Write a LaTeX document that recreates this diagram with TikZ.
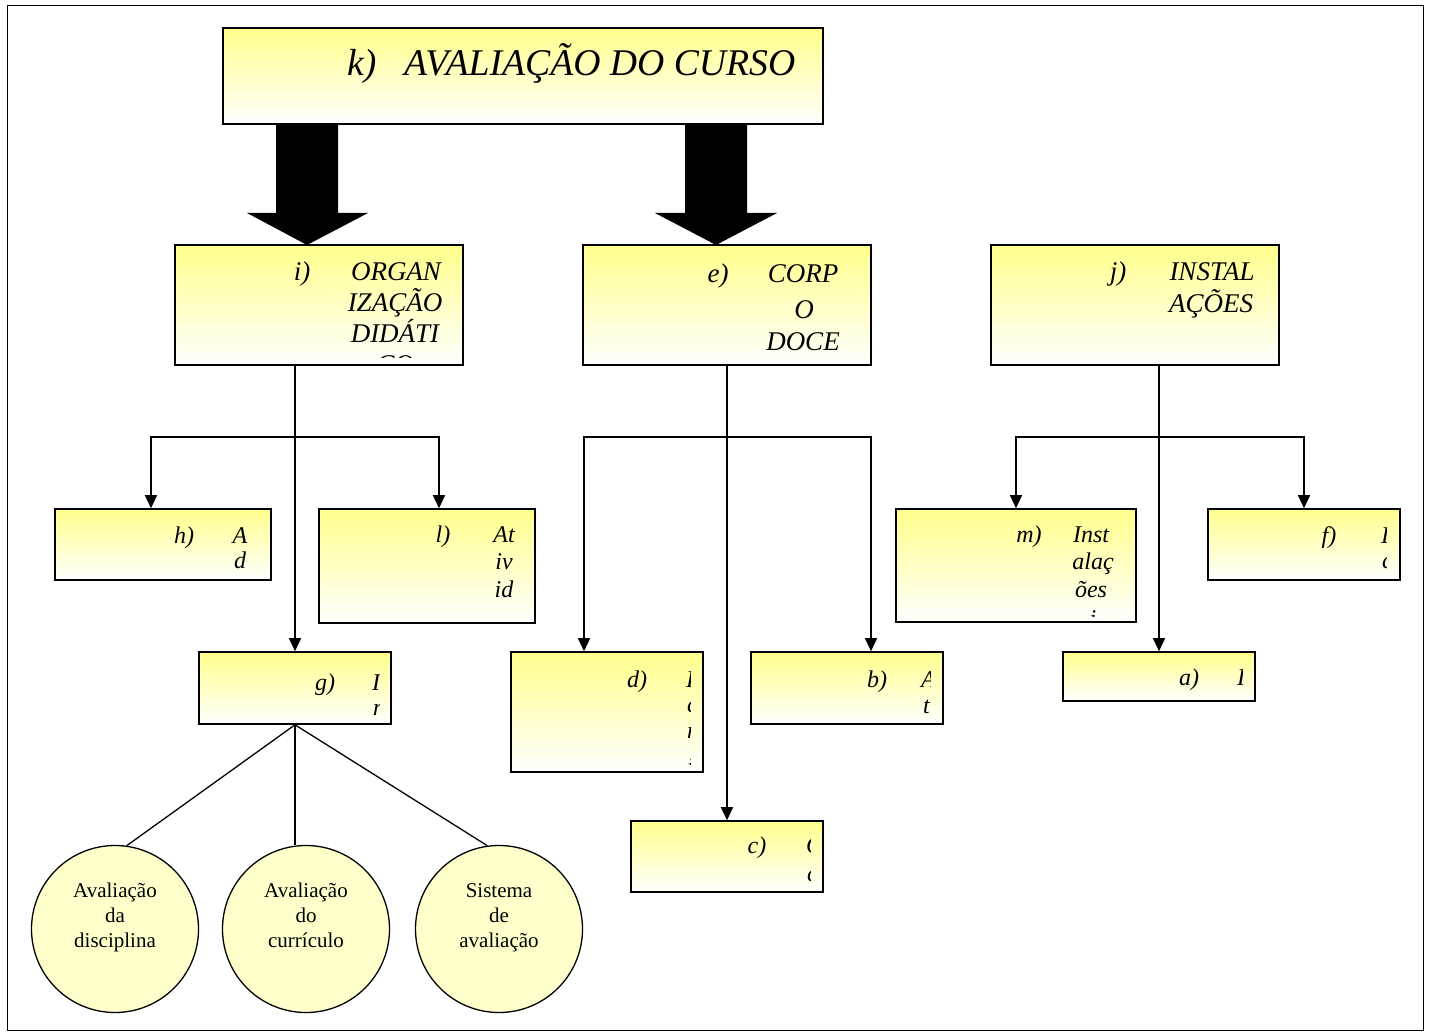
\documentclass[tikz,border=0pt]{standalone}
\usepackage{fontspec}
\setmainfont{Liberation Serif}
\usetikzlibrary{arrows.meta,shapes.geometric}
\definecolor{boxyel}{RGB}{255,255,140}
\definecolor{circyel}{RGB}{255,255,204}
\begin{document}
\begin{tikzpicture}[x=1pt,y=-1pt,
 box/.style={draw=black,line width=1.6pt,top color=boxyel,bottom color=white,inner sep=0pt,rectangle},
 conn/.style={line width=1.3pt},
 arr/.style={conn,-{Triangle[width=12pt,length=13pt]}},
 circ/.style={draw,line width=1.3pt,fill=circyel,circle,minimum size=167pt,inner sep=0pt},
 t1/.style={font=\fontsize{37.7}{40}\selectfont\itshape,anchor=base west,inner sep=0pt},
 t2/.style={font=\fontsize{27}{30}\selectfont\itshape,anchor=base,inner sep=0pt},
 t3/.style={font=\fontsize{24}{27}\selectfont\itshape,anchor=base,inner sep=0pt},
 t3w/.style={t3,anchor=base west},
 ct/.style={font=\fontsize{21}{25}\selectfont,anchor=base,inner sep=0pt},
]
\useasboundingbox (0,0) rectangle (1429,1035);
\fill[white] (0,0) rectangle (1429,1035);
\draw[line width=1pt] (7,6) rectangle (1423,1030);

% boxes
\node[box,minimum width=600pt,minimum height=96pt] (k) at (523,76) {};
\node[box,minimum width=288pt,minimum height=120pt] (i) at (319,305) {};
\node[box,minimum width=288pt,minimum height=120pt] (e) at (727,305) {};
\node[box,minimum width=288pt,minimum height=120pt] (j) at (1135,305) {};
\node[box,minimum width=216pt,minimum height=71pt] (h) at (163,544.5) {};
\node[box,minimum width=216pt,minimum height=114pt] (l) at (427,566) {};
\node[box,minimum width=240pt,minimum height=113pt] (m) at (1016,565.5) {};
\node[box,minimum width=192pt,minimum height=71pt] (f) at (1304,544.5) {};
\node[box,minimum width=192pt,minimum height=72pt] (g) at (295,688) {};
\node[box,minimum width=192pt,minimum height=120pt] (d) at (607,712) {};
\node[box,minimum width=192pt,minimum height=72pt] (b) at (847,688) {};
\node[box,minimum width=192pt,minimum height=49pt] (a) at (1159,676.5) {};
\node[box,minimum width=192pt,minimum height=71pt] (c) at (727,856.5) {};

% circles
\node[circ] (c1) at (115,929) {};
\node[circ] (c2) at (306,929) {};
\node[circ] (c3) at (499,929) {};
\node[ct] (c1a) at (115,897) {Avaliação};
\node[ct] (c1b) at (115,922) {da};
\node[ct] (c1c) at (115,947) {disciplina};
\node[ct] (c2a) at (306,897) {Avaliação};
\node[ct] (c2b) at (306,922) {do};
\node[ct] (c2c) at (306,947) {currículo};
\node[ct] (c3a) at (499,897) {Sistema};
\node[ct] (c3b) at (499,922) {de};
\node[ct] (c3c) at (499,947) {avaliação};

% big arrows
\fill (276,125) -- (338,125) -- (338,213) -- (368,213) -- (307,245) -- (247,213) -- (276,213) -- cycle;
\fill (685,125) -- (747,125) -- (747,213) -- (777,213) -- (716,245) -- (655,213) -- (685,213) -- cycle;

% connectors
\coordinate (ibr) at (295,437);
\coordinate (ebr) at (727,437);
\coordinate (jbr) at (1159,437);
\coordinate (hin) at ([xshift=-12pt]h.north);
\coordinate (lin) at ([xshift=12pt]l.north);
\coordinate (din) at ([xshift=-23pt]d.north);
\coordinate (bin) at ([xshift=24pt]b.north);
\draw[arr] (ibr) -| (hin);
\draw[arr] (ibr) -| (lin);
\draw[arr] (i.south -| g.north) -- (g.north);
\draw[arr] (ebr) -| (din);
\draw[arr] (ebr) -| (bin);
\draw[arr] (e.south) -- (c.north);
\draw[arr] (jbr) -| (m.north);
\draw[arr] (jbr) -| (f.north);
\draw[arr] (j.south -| a.north) -- (a.north);
\draw[conn] (g.south) -- (c1.82);
\draw[conn] (g.south) -- (g.south |- c2.97.5);
\draw[conn] (g.south) -- (c3.98);

% title
\node[t1] (kl) at (347,76) {k)};
\node[t1] (kt) at (404,76) {AVALIAÇÃO DO CURSO};

% row 2
\begin{scope}
\clip (175,245) rectangle (449,357);
\node[t2] (il) at (302,280) {i)};
\node[t2] (i1) at (396,280) {ORGAN};
\node[t2] (i2) at (395,311) {IZAÇÃO};
\node[t2] (i3) at (395,342) {DIDÁTI};
\node[t2] (i4) at (395,373) {CO};
\end{scope}
\node[t2] (el) at (718,282) {e)};
\node[t2] (e1) at (803,282) {CORP};
\node[t2] (e2) at (804,318) {O};
\node[t2] (e3) at (803,350) {DOCE};
\node[t2] (jl) at (1118,280) {j)};
\node[t2] (j1) at (1212,280) {INSTAL};
\node[t2] (j2) at (1211,312) {AÇÕES};

% row 3
\node[t3] (hl) at (184,543) {h)};
\node[t3] (h1) at (240,543) {A};
\node[t3] (h2) at (240,568) {d};
\node[t3] (ll) at (443,542) {l)};
\node[t3] (l1) at (504,542) {At};
\node[t3] (l2) at (504,569) {iv};
\node[t3] (l3) at (504,597) {id};
\begin{scope}
\clip (896,509) rectangle (1122,616);
\node[t3] (ml) at (1029,542) {m)};
\node[t3] (m1) at (1091,542) {Inst};
\node[t3] (m2) at (1093,569) {alaç};
\node[t3] (m3) at (1091,597) {ões};
\node[t3] (m4) at (1093,626) {i};
\end{scope}
\begin{scope}
\clip (1208,509) rectangle (1386,580);
\node[t3] (fl) at (1329,543) {f)};
\node[t3w] (f1) at (1381,543) {I};
\node[t3w] (f2) at (1382,568) {c};
\end{scope}
\begin{scope}
\clip (199,652) rectangle (379,724);
\node[t3] (gl) at (325,690) {g)};
\node[t3w] (g1) at (372,690) {I};
\node[t3w] (g2) at (373,715) {n};
\end{scope}
\begin{scope}
\clip (511,652) rectangle (690,764);
\node[t3] (dl) at (637,687) {d)};
\node[t3w] (d1) at (686,687) {I};
\node[t3w] (d2) at (687,712) {c};
\node[t3w] (d3) at (687,738) {n};
\node[t3w] (d4) at (687,774) {i};
\end{scope}
\begin{scope}
\clip (751,652) rectangle (930,724);
\node[t3] (bl) at (877,687) {b)};
\node[t3w] (b1) at (921,687) {A};
\node[t3w] (b2) at (923,713) {t};
\end{scope}
\begin{scope}
\clip (1063,652) rectangle (1242,701);
\node[t3] (al) at (1189,685) {a)};
\node[t3w] (a1) at (1237,685) {I};
\end{scope}
\begin{scope}
\clip (631,821) rectangle (810,892);
\node[t3] (cl) at (757,853) {c)};
\node[t3w] (cc1) at (806,853) {C};
\node[t3w] (cc2) at (807,881) {c};
\end{scope}
\end{tikzpicture}
\end{document}
